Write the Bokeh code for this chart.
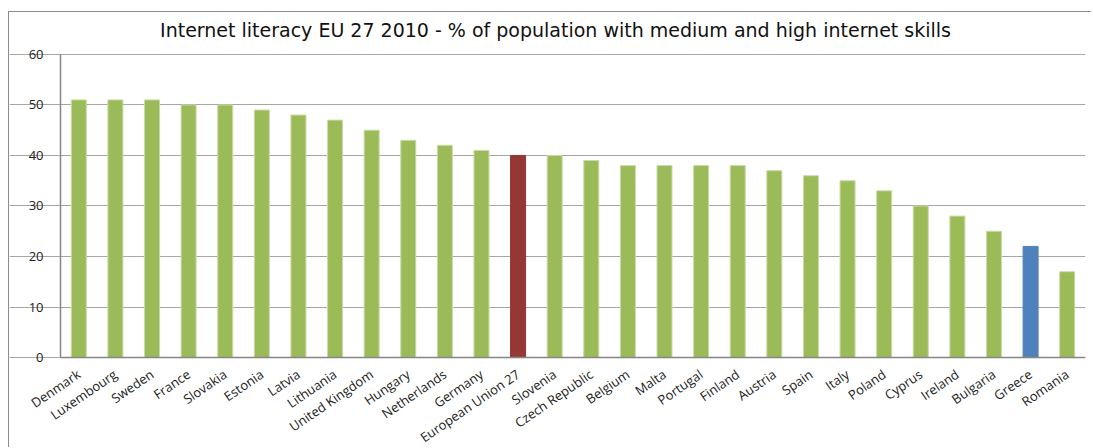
from bokeh.plotting import figure
from bokeh.models import ColumnDataSource, Range1d, Label
from bokeh.core.properties import value
from bokeh.embed import file_html
from bokeh.resources import INLINE

countries = ["Denmark", "Luxembourg", "Sweden", "France", "Slovakia", "Estonia", "Latvia",
             "Lithuania", "United Kingdom", "Hungary", "Netherlands", "Germany",
             "European Union 27", "Slovenia", "Czech Republic", "Belgium", "Malta",
             "Portugal", "Finland", "Austria", "Spain", "Italy", "Poland", "Cyprus",
             "Ireland", "Bulgaria", "Greece", "Romania"]
values = [51, 51, 51, 50, 50, 49, 48, 47, 45, 43, 42, 41, 40, 40, 39, 38, 38, 38, 38,
          37, 36, 35, 33, 30, 28, 25, 22, 17]
y_ticks = [0, 10, 20, 30, 40, 50, 60]
title_text = "Internet literacy EU 27 2010 - % of population with medium and high internet skills"

GREEN = "#9BBB59"
RED = "#953735"
BLUE = "#4F81BD"
AXIS = "#868686"
colors = [RED if c == "European Union 27" else BLUE if c == "Greece" else GREEN for c in countries]
edges = ["#C9DBA6" if col == GREEN else col for col in colors]

n = len(countries)
pos = [i + 0.5 for i in range(n)]          # category centres on a numeric scale
src = ColumnDataSource(dict(x=pos, name=countries, top=values, color=colors, edge=edges,
                            base=[0] * n))
tick_src = ColumnDataSource(dict(y=y_ticks, label=[str(t) for t in y_ticks], x=[0] * len(y_ticks)))

# the frame covers the whole canvas so that the slanted category labels, the
# value labels and the title are not clipped; the plotting area is 0..n x 0..60
p = figure(width=1083, height=436, x_range=Range1d(-1.393, n), y_range=Range1d(-18.0, 68.3),
           output_backend="svg", toolbar_location=None,
           min_border_left=0, min_border_right=7, min_border_top=0, min_border_bottom=0)
p.title.visible = False
p.xaxis.visible = False
p.yaxis.visible = False
p.xgrid.grid_line_color = None
p.ygrid.ticker = y_ticks
p.ygrid.bounds = (0, n)
p.ygrid.grid_line_color = "#A6A6A6"
p.ygrid.grid_line_width = 1

p.vbar(x="x", top="top", width=0.41, source=src, fill_color="color", line_color="edge", line_width=1)

# axis lines
p.segment(x0=[0], y0=[y_ticks[0]], x1=[0], y1=[y_ticks[-1]], line_color=AXIS, line_width=1.5)
p.segment(x0=[0], y0=[y_ticks[0]], x1=[n], y1=[y_ticks[0]], line_color=AXIS, line_width=1.5)

# value tick labels
p.text(x="x", y="y", text="label", source=tick_src, x_offset=-17,
       text_align="right", text_baseline="middle",
       text_font=value("Open Sans"), text_font_size="13px", text_color="#222222")

# slanted category labels
p.text(x="x", y="base", text="name", source=src, angle=0.6,
       text_align="right", text_baseline="middle", x_offset=0, y_offset=15,
       text_font=value("Open Sans"), text_font_size="13px", text_color="#222222")

p.add_layout(Label(x=546, y=419, x_units="screen", y_units="screen", text=title_text,
                   text_align="center", text_baseline="alphabetic",
                   text_font="DejaVu Sans", text_font_size="19px", text_color="#111111"))

p.outline_line_color = None
p.background_fill_color = "white"
p.border_fill_color = "white"
p.styles = {"margin-left": "8px", "margin-top": "11px",
            "border-left": "1px solid #8c8c8c", "border-top": "1px solid #8c8c8c"}

open("out.html", "w").write(file_html(p, INLINE))
